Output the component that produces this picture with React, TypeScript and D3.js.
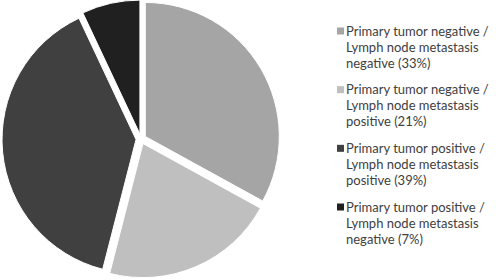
import * as d3 from "d3";
import React from "react";

// slice order: clockwise from 12 o'clock
const categories = [
  "Primary tumor negative / Lymph node metastasis negative",
  "Primary tumor negative / Lymph node metastasis positive",
  "Primary tumor positive / Lymph node metastasis positive",
  "Primary tumor positive / Lymph node metastasis negative",
];
const values = [33, 21, 39, 7];
const sliceColors = ["#a5a5a5", "#bfbfbf", "#404040", "#202020"];

const W = 500;
const H = 280;
const cx = 141;
const cy = 139;
const radius = 134;
const explode = 5;

// wrap legend text the way the original does: three lines per entry
function legendLines(cat: string, v: number): string[] {
  const [a, b] = cat.split(" / ");
  const words = b.split(" ");
  const last = words.pop();
  return [`${a} /`, words.join(" "), `${last} (${v}%)`];
}

const App: React.FC = () => {
  const pie = d3
    .pie<number>()
    .value((d) => d)
    .sort(null);
  const arcs = pie(values);
  const arc = d3.arc<d3.PieArcDatum<number>>().innerRadius(0).outerRadius(radius);

  const legendX = 337;
  const legendY = d3.scaleLinear().domain([0, 3]).range([31, 207]);
  const lineH = 16;

  return (
    <svg
      width={W}
      height={H}
      style={{ position: "absolute", left: 0, top: 0, background: "#fff" }}
    >
      <g transform={`translate(${cx},${cy})`}>
        {arcs.map((a, i) => {
          const mid = (a.startAngle + a.endAngle) / 2;
          const dx = Math.sin(mid) * explode;
          const dy = -Math.cos(mid) * explode;
          return (
            <path
              key={i}
              d={arc(a) || ""}
              fill={sliceColors[i]}
              stroke="#fff"
              strokeWidth={1}
              transform={`translate(${dx},${dy})`}
            />
          );
        })}
      </g>
      <g fontFamily="Lato, 'Open Sans', sans-serif" fontSize={13} fill="#404040">
        {categories.map((c, i) => {
          const y0 = legendY(i);
          return (
            <g key={i}>
              <rect x={legendX} y={y0 - 3.5} width={7} height={7} fill={sliceColors[i]} />
              {legendLines(c, values[i]).map((t, j) => (
                <text key={j} x={legendX + 9} y={y0 + j * lineH} dy="0.35em">
                  {t}
                </text>
              ))}
            </g>
          );
        })}
      </g>
    </svg>
  );
};

export default App;
